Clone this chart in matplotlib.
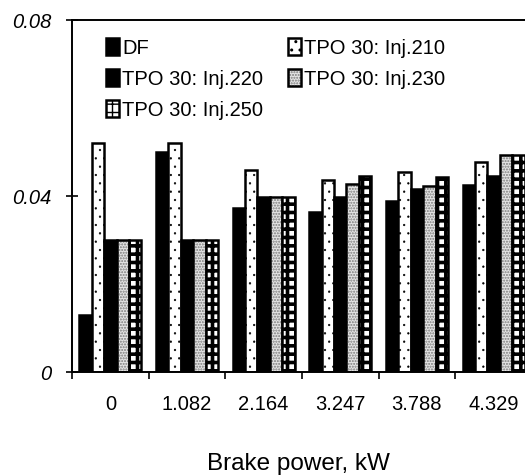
import numpy as np
import matplotlib
matplotlib.use("Agg")
import matplotlib.pyplot as plt
from matplotlib.legend_handler import HandlerTuple

plt.rcParams['font.family'] = ['Liberation Sans', 'DejaVu Sans']

# brake power categories (kW)
power = ['0', '1.082', '2.164', '3.247', '3.788', '4.329']

df_vals     = [0.013, 0.050, 0.0373, 0.0364, 0.0389, 0.0425]
inj210_vals = [0.052, 0.052, 0.0458, 0.0436, 0.0455, 0.0477]
inj220_vals = [0.030, 0.030, 0.0397, 0.0397, 0.0415, 0.0445]
inj230_vals = [0.030, 0.030, 0.0397, 0.0428, 0.0422, 0.0493]
inj250_vals = [0.030, 0.030, 0.0397, 0.0445, 0.0443, 0.0493]

labels = ['DF', 'TPO 30: Inj.210', 'TPO 30: Inj.220',
          'TPO 30: Inj.230', 'TPO 30: Inj.250']

fig = plt.figure(figsize=(5.25, 4.77), dpi=100)
ax = fig.add_axes([72/525, 104/477, 453/525, 352/477])

x = np.arange(len(power))
w = 0.162
lw = 1.8

b_df = ax.bar(x - 2*w, df_vals, w, color='black', edgecolor='black', lw=lw)

with plt.rc_context({'hatch.linewidth': 0.4}):
    b210 = ax.bar(x - w, inj210_vals, w, facecolor='white', edgecolor='black',
                  lw=lw, hatch='..')

b220 = ax.bar(x, inj220_vals, w, color='black', edgecolor='black', lw=lw)

# stippled grey: hatch layer in grey, then black outline on top
with plt.rc_context({'hatch.linewidth': 1.0}):
    b230h = ax.bar(x + w, inj230_vals, w, facecolor='#e4e4e4', edgecolor='#7a7a7a',
                   lw=0, hatch='......')
b230o = ax.bar(x + w, inj230_vals, w, facecolor='none', edgecolor='black', lw=lw)

with plt.rc_context({'hatch.linewidth': 2.6}):
    b250 = ax.bar(x + 2*w, inj250_vals, w, facecolor='white', edgecolor='black',
                  lw=lw, hatch='++')

ax.set_xlim(-0.5, 5.41)
ax.set_ylim(0, 0.08)

ax.set_yticks([0, 0.04, 0.08])
ax.set_yticklabels(['0', '0.04', '0.08'], fontstyle='italic', fontsize=14.5)
ax.tick_params(axis='y', direction='inout', length=9, width=1.2, pad=10)

ax.set_xticks(np.arange(len(power)) - 0.5)
ax.set_xticklabels([])
ax.tick_params(axis='x', which='major', direction='out', length=5, width=1.2)
ax.set_xticks(x, minor=True)
ax.set_xticklabels(power, minor=True, fontsize=14.5)
ax.tick_params(axis='x', which='minor', length=0, pad=16)

ax.set_xlabel('Brake power, kW', fontsize=17.5, labelpad=28)

ax.spines['right'].set_visible(False)
for s in ['left', 'bottom', 'top']:
    ax.spines[s].set_linewidth(1.4)

h230 = (b230h[0], b230o[0])
handles = [b_df[0], b220[0], b250[0], b210[0], h230]
leg_labels = [labels[0], labels[2], labels[4], labels[1], labels[3]]
ax.legend(handles, leg_labels, ncol=2, frameon=False, fontsize=14.5,
          loc='upper left', bbox_to_anchor=(0.035, 1.0),
          handlelength=0.65, handleheight=0.9, handletextpad=0.15,
          columnspacing=1.25, labelspacing=0.58,
          handler_map={tuple: HandlerTuple(ndivide=1)})

fig.savefig('out.png', dpi=100)
